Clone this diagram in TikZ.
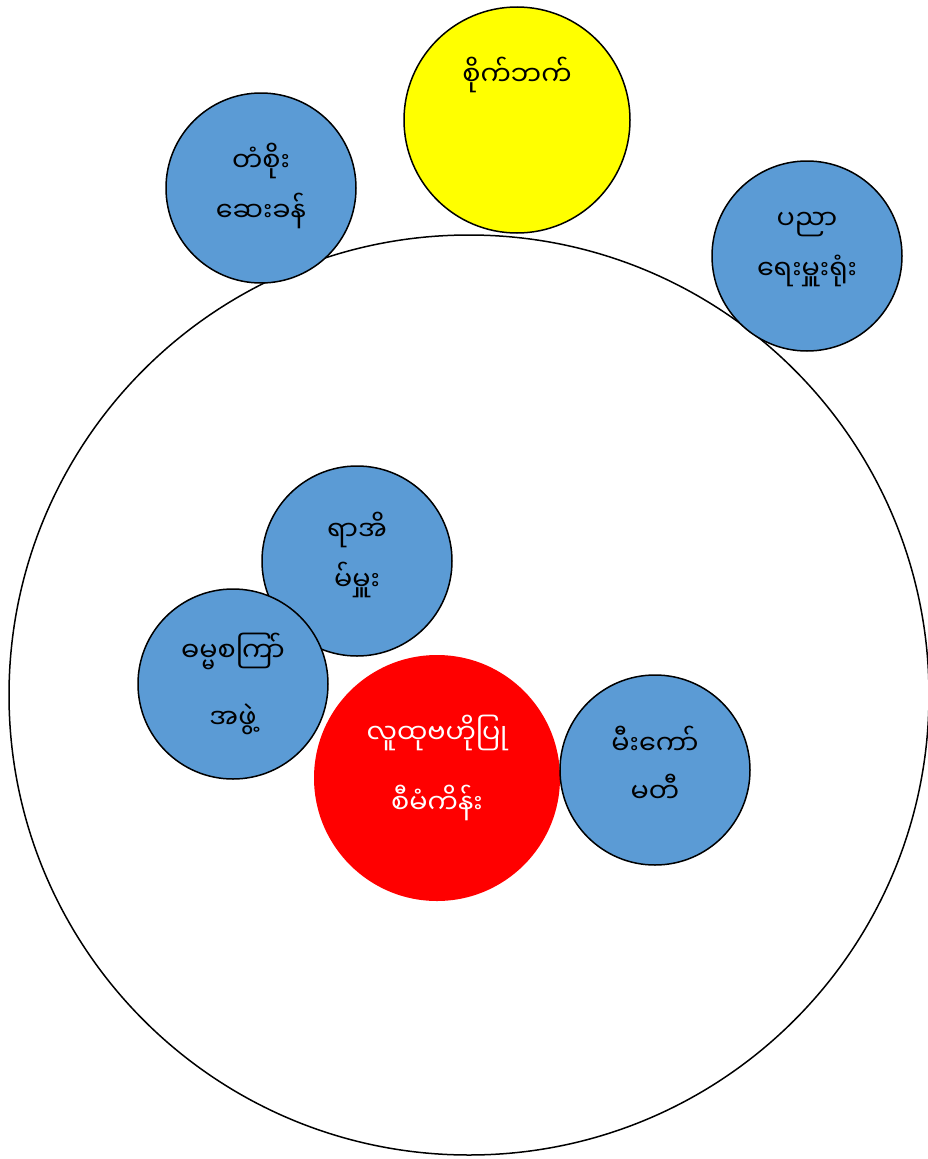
\documentclass[tikz,border=0pt]{standalone}
\usepackage{fontspec}
\newfontfamily\mmfont[Script=Myanmar]{Noto Sans Myanmar UI}
\usetikzlibrary{positioning}
\definecolor{bubBlue}{HTML}{5B9BD5}
\definecolor{bubYellow}{HTML}{FFFF00}
\definecolor{bubRed}{HTML}{FF0000}
\tikzset{
  bigring/.style={circle, draw=black, line width=1.5pt, fill=white,
                  minimum size=920pt, inner sep=0pt},
  bubble/.style={circle, draw=black, fill=bubBlue, line width=1.5pt,
                 minimum size=190pt, inner sep=0pt},
  bubYel/.style={circle, draw=black, fill=bubYellow, line width=1.5pt,
                 minimum size=226pt, inner sep=0pt},
  bubCore/.style={circle, fill=bubRed, minimum size=246pt, inner sep=0pt},
  mmtext/.style={align=center, inner sep=0pt,
                 font=\mmfont\fontsize{27}{50}\selectfont},
}
\begin{document}
\begin{tikzpicture}[x=1pt, y=-1pt]
    \useasboundingbox (0,0) rectangle (928,1159);
    \node[bigring] (ring) at (469,695) {};
    % outer bubbles
    \node[bubYel] (ally) at (517,120) {};
    \node[bubble] (bribe) at (261,188) {};
    \node[bubble] (edu) at (807,256) {};
    % inner bubbles
    \node[bubble] (head) at (357,561) {};
    \node[bubble] (dhamma) at (233,684) {};
    \node[bubCore] (core) at (437,778) {};
    \node[bubble] (fire) at (655,770) {};
    % labels
    \node[mmtext] (allylbl) at (517,75) {စိုက်ဘက်};
    \node[mmtext] (bribelbl) at (261,186) {တံစိုး\\ဆေးခန်};
    \node[mmtext] (edulbl) at (807,250) {ပညာ\\ရေးမှူးရုံး};
    \node[mmtext] (headlbl) at (357,555) {ရာအိ\\မ်မှူး};
    \node[mmtext, font=\mmfont\fontsize{27}{67}\selectfont]
          (dhammalbl) at (233,684) {ဓမ္မစကြာ်\\အဖွဲ့};
    \node[mmtext, text=white, font=\mmfont\fontsize{27}{70}\selectfont]
          (corelbl) at (437,768) {လူထုဗဟိုပြု\\စီမံကိန်း};
    \node[mmtext, font=\mmfont\fontsize{27}{48}\selectfont]
          (firelbl) at (655,764) {မီးကော်\\မတီ};
\end{tikzpicture}
\end{document}
